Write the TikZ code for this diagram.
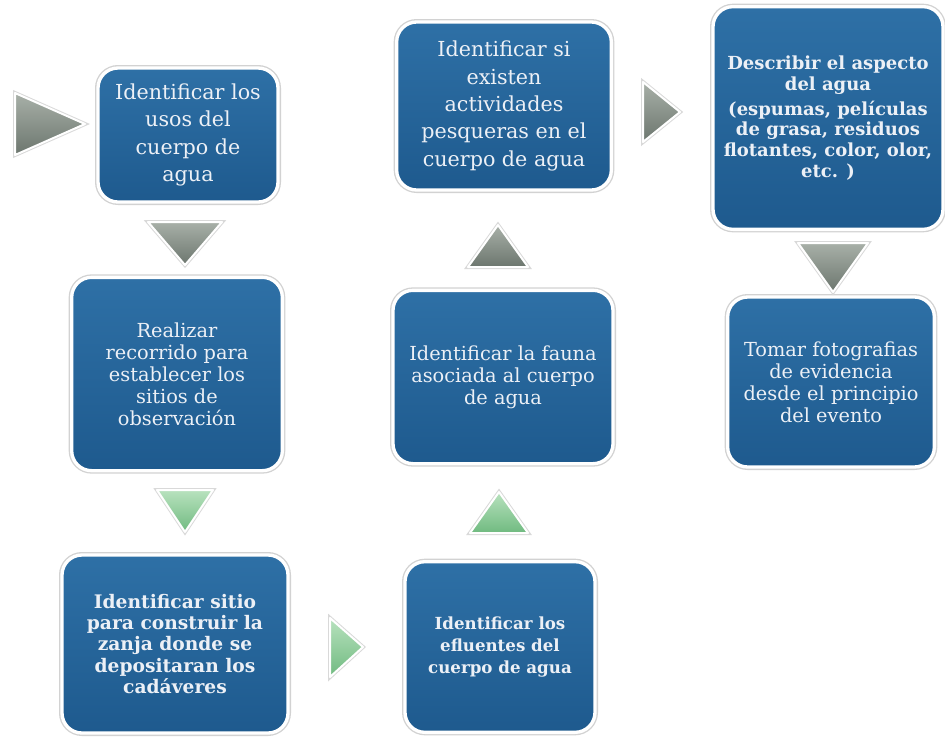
\documentclass[tikz,border=0pt]{standalone}
\usepackage{fontspec}
\setmainfont{DejaVu Serif}
\usepackage{tikz}
\definecolor{boxtop}{RGB}{46,112,166}
\definecolor{boxbot}{RGB}{30,90,142}
\definecolor{boxtext}{RGB}{236,240,246}
\definecolor{grisclaro}{RGB}{168,176,168}
\definecolor{grisoscuro}{RGB}{108,118,110}
\definecolor{verdeclaro}{RGB}{184,226,190}
\definecolor{verdeoscuro}{RGB}{112,186,128}

\begin{document}
\begin{tikzpicture}[x=0.75pt,y=0.75pt,yscale=-1,xscale=1,
  stepbox/.style={rectangle, rounded corners=15pt, top color=boxtop, bottom color=boxbot,
    draw=white, line width=2.5pt, preaction={draw=gray!35, line width=4.5pt},
    text=boxtext, align=center, inner sep=2pt,
    font=\fontsize{14.5}{16.5}\selectfont},
  bigtext/.style={font=\fontsize{15.5}{20.5}\selectfont},
  boldtext/.style={font=\fontsize{14}{16}\selectfont\bfseries},
  greytri/.style={draw=white, line width=1.5pt, line join=round,
    top color=grisclaro, bottom color=grisoscuro, preaction={draw=gray!30, line width=3pt}},
  greentri/.style={draw=white, line width=1.5pt, line join=round,
    top color=verdeclaro, bottom color=verdeoscuro, preaction={draw=gray!30, line width=3pt}}]
\useasboundingbox (0,0) rectangle (945,736);

% Text Node
\node [stepbox, bigtext, minimum width=135pt, minimum height=100.5pt] (usos) at (188,135)
  {Identificar los\\usos del\\cuerpo de\\agua};
% Text Node
\node [stepbox, minimum width=158pt, minimum height=145pt] (recorrido) at (177,374)
  {Realizar\\recorrido para\\establecer los\\sitios de\\observación};
% Text Node
\node [stepbox, boldtext, minimum width=169.5pt, minimum height=133.5pt] (zanja) at (175,644)
  {Identificar sitio\\para construir la\\zanja donde se\\depositaran los\\cadáveres};
% Text Node
\node [stepbox, boldtext, font=\fontsize{12.5}{16.5}\selectfont\bfseries, minimum width=142.5pt, minimum height=128pt] (efluentes) at (500,647)
  {Identificar los\\efluentes del\\cuerpo de agua};
% Text Node
\node [stepbox, minimum width=165pt, minimum height=130pt] (fauna) at (503,377)
  {Identificar la fauna\\asociada al cuerpo\\de agua};
% Text Node
\node [stepbox, bigtext, minimum width=161pt, minimum height=126pt] (pesca) at (504,106)
  {Identificar si\\existen\\actividades\\pesqueras en el\\cuerpo de agua};
% Text Node
\node [stepbox, boldtext, font=\fontsize{13.5}{15.5}\selectfont\bfseries, minimum width=172.5pt, minimum height=167pt] (aspecto) at (828,118)
  {Describir el aspecto\\del agua\\[3pt](espumas, películas\\de grasa, residuos\\flotantes, color, olor,\\etc. )};
% Text Node
\node [stepbox, minimum width=155pt, minimum height=127.5pt] (fotos) at (831,382)
  {Tomar fotografias\\de evidencia\\desde el principio\\del evento};

%Shape: Triangle [id:start]
\draw [greytri] (15,93) -- (85,124) -- (15,155) -- cycle;
%Shape: Triangle [id:usos-recorrido]
\draw [greytri] (148,222) -- (222,222) -- (185,265) -- cycle;
%Shape: Triangle [id:recorrido-zanja]
\draw [greentri] (157,490) -- (213,490) -- (185,532) -- cycle;
%Shape: Triangle [id:zanja-efluentes]
\draw [greentri] (330,618) -- (363,647) -- (330,677) -- cycle;
%Shape: Triangle [id:efluentes-fauna]
\draw [greentri] (470,533) -- (528,533) -- (499,492) -- cycle;
%Shape: Triangle [id:fauna-pesca]
\draw [greytri] (468,267) -- (528,267) -- (498,225) -- cycle;
%Shape: Triangle [id:pesca-aspecto]
\draw [greytri] (643,82) -- (680,112) -- (643,142) -- cycle;
%Shape: Triangle [id:aspecto-fotos]
\draw [greytri] (798,243) -- (868,243) -- (833,292) -- cycle;
\end{tikzpicture}
\end{document}
